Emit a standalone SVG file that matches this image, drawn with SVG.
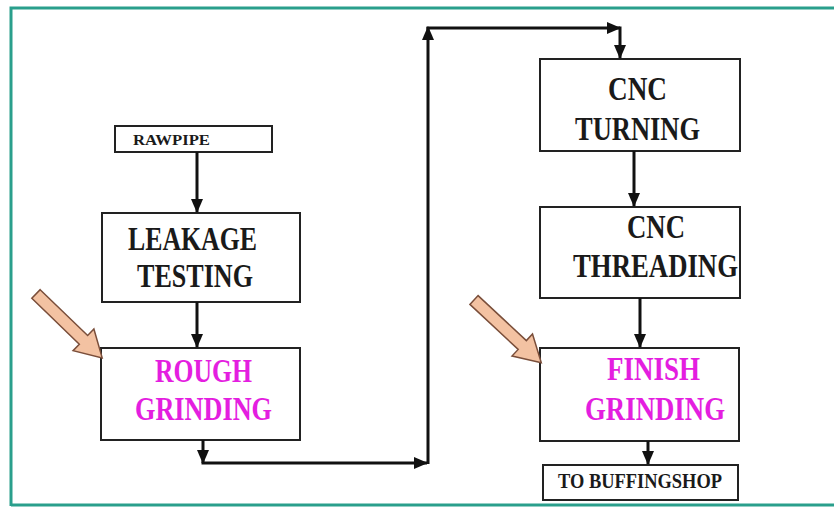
<svg xmlns="http://www.w3.org/2000/svg" width="834" height="508" viewBox="0 0 834 508">
<style>
.box{fill:#fff;stroke:#222;stroke-width:2}
.con{fill:none;stroke:#111;stroke-width:3}
.t{font-family:"Liberation Serif","Times New Roman","DejaVu Serif",serif;font-weight:bold;fill:#1a1a1a}
.m{fill:#e41ee0}
.big{font-size:34px}
.blk{fill:#f3c2a2;stroke:#7a4e3a;stroke-width:1.5}
</style>
<defs>
<marker id="ah" markerUnits="userSpaceOnUse" markerWidth="14" markerHeight="12" refX="13" refY="6" orient="auto">
<path d="M0,0 L14,6 L0,12 Z" fill="#111"/>
</marker>
</defs>
<rect x="0" y="0" width="834" height="508" fill="#fff"/>
<path d="M11,506 V8 H834" fill="none" stroke="#2a9f8c" stroke-width="3"/>
<path d="M11,505 H834" fill="none" stroke="#2a9f8c" stroke-width="3"/>

<g id="raw-pipe">
<rect class="box" x="115" y="126" width="157" height="26"/>
<text class="t" x="133" y="145" font-size="14" textLength="77" lengthAdjust="spacingAndGlyphs">RAWPIPE</text>
</g>
<g id="leakage-testing">
<rect class="box" x="102" y="213" width="198" height="89"/>
<text class="t big" x="128" y="250" textLength="129" lengthAdjust="spacingAndGlyphs">LEAKAGE</text>
<text class="t big" x="137" y="287" textLength="116" lengthAdjust="spacingAndGlyphs">TESTING</text>
</g>
<g id="rough-grinding">
<rect class="box" x="101" y="348" width="199" height="92"/>
<text class="t m big" x="155" y="382" textLength="97" lengthAdjust="spacingAndGlyphs">ROUGH</text>
<text class="t m big" x="135" y="420" textLength="137" lengthAdjust="spacingAndGlyphs">GRINDING</text>
</g>
<g id="cnc-turning">
<rect class="box" x="540" y="59" width="200" height="92"/>
<text class="t big" x="608" y="100" textLength="59" lengthAdjust="spacingAndGlyphs">CNC</text>
<text class="t big" x="575" y="140" textLength="125" lengthAdjust="spacingAndGlyphs">TURNING</text>
</g>
<g id="cnc-threading">
<rect class="box" x="540" y="207" width="200" height="91"/>
<text class="t big" x="627" y="238" textLength="58" lengthAdjust="spacingAndGlyphs">CNC</text>
<text class="t big" x="573" y="277" textLength="165" lengthAdjust="spacingAndGlyphs">THREADING</text>
</g>
<g id="finish-grinding">
<rect class="box" x="540" y="348" width="199" height="93"/>
<text class="t m big" x="607" y="380" textLength="93" lengthAdjust="spacingAndGlyphs">FINISH</text>
<text class="t m big" x="585" y="420" textLength="140" lengthAdjust="spacingAndGlyphs">GRINDING</text>
</g>
<g id="to-buffing-shop">
<rect class="box" x="543" y="465" width="195" height="35"/>
<text class="t" x="558" y="488" font-size="22" textLength="164" lengthAdjust="spacingAndGlyphs">TO BUFFINGSHOP</text>
</g>

<g id="connectors">
<line class="con" x1="197" y1="152" x2="197" y2="212" marker-end="url(#ah)"/>
<line class="con" x1="197" y1="302" x2="197" y2="347" marker-end="url(#ah)"/>
<line class="con" x1="203" y1="440" x2="203" y2="463" marker-end="url(#ah)"/>
<line class="con" x1="201.5" y1="463" x2="427" y2="463" marker-end="url(#ah)"/>
<line class="con" x1="428" y1="464" x2="428" y2="27" marker-end="url(#ah)"/>
<line class="con" x1="426.5" y1="28" x2="620" y2="28" marker-end="url(#ah)"/>
<line class="con" x1="620" y1="26.5" x2="620" y2="58" marker-end="url(#ah)"/>
<line class="con" x1="634" y1="151" x2="634" y2="206" marker-end="url(#ah)"/>
<line class="con" x1="640" y1="298" x2="640" y2="347" marker-end="url(#ah)"/>
<line class="con" x1="648" y1="441" x2="648" y2="464" marker-end="url(#ah)"/>
</g>

<g id="pointer-left">
<polygon class="blk" transform="translate(36,294) rotate(44)" points="0,-6 66,-6 66,-15 92,0 66,15 66,6 0,6"/>
</g>
<g id="pointer-right">
<polygon class="blk" transform="translate(474,300) rotate(43)" points="0,-6 66,-6 66,-15 92,0 66,15 66,6 0,6"/>
</g>
</svg>
